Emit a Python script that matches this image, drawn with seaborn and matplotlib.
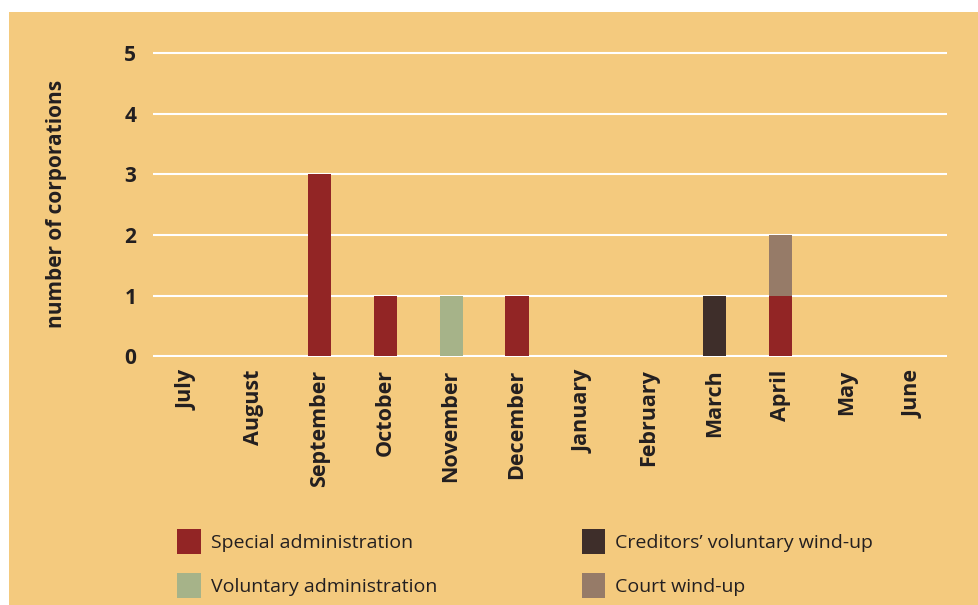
import pandas as pd
import matplotlib.pyplot as plt
import seaborn as sns
from matplotlib.patches import Patch, Rectangle

# dati del grafico
mesi = ["July", "August", "September", "October", "November", "December",
        "January", "February", "March", "April", "May", "June"]
special_admin = [0, 0, 3, 1, 0, 1, 0, 0, 0, 1, 0, 0]
voluntary_admin = [0, 0, 0, 0, 1, 0, 0, 0, 0, 0, 0, 0]
creditors_windup = [0, 0, 0, 0, 0, 0, 0, 0, 1, 0, 0, 0]
court_windup = [0, 0, 0, 0, 0, 0, 0, 0, 0, 1, 0, 0]

serie = [
    ("Special administration", special_admin, "#922525"),
    ("Voluntary administration", voluntary_admin, "#A6B389"),
    ("Creditors\u2019 voluntary wind-up", creditors_windup, "#3E2E2A"),
    ("Court wind-up", court_windup, "#967B68"),
]

sfondo = "#F4CA7E"
testo = "#231F20"

sns.set_style("white")
plt.rcParams["font.family"] = ["Open Sans", "DejaVu Sans"]

fig = plt.figure(figsize=(9.79, 6.05), dpi=100)
fig.patch.set_facecolor(sfondo)
# margini bianchi sopra e a sinistra
fig.patches.append(Rectangle((0, 1 - 12 / 605), 1, 12 / 605, transform=fig.transFigure,
                             facecolor="white", edgecolor="none"))
fig.patches.append(Rectangle((0, 0), 9 / 979, 1, transform=fig.transFigure,
                             facecolor="white", edgecolor="none"))

ax = fig.add_axes([153 / 979, 1 - 357 / 605, (947 - 153) / 979, (357 - 51) / 605])
ax.set_facecolor("none")

df = pd.DataFrame({"mese": mesi})
base = [0] * len(mesi)
for nome, valori, colore in serie:
    df["v"] = valori
    sns.barplot(data=df, x="mese", y="v", order=mesi, color=colore, width=0.35,
                bottom=base, errorbar=None, linewidth=0, saturation=1, ax=ax, zorder=3)
    base = [b + v for b, v in zip(base, valori)]

ax.set_xlim(-0.52, 11.52)
ax.set_ylim(-0.01, 5.03)
ax.set_yticks(range(6))
ax.yaxis.grid(True, color="white", linewidth=1.5, zorder=1)
ax.xaxis.grid(False)
ax.set_axisbelow(True)
for s in ax.spines.values():
    s.set_visible(False)

ax.tick_params(axis="both", length=0, colors=testo)
ax.tick_params(axis="y", pad=12, labelsize=15)
ax.tick_params(axis="x", pad=9, labelsize=15.5, rotation=90)
for lab in ax.get_xticklabels() + ax.get_yticklabels():
    lab.set_fontweight("bold")

ax.set_xlabel("")
ax.set_ylabel("number of corporations", fontsize=15, fontweight="bold",
              color=testo, labelpad=41)

handles = [Patch(facecolor=c, edgecolor="none", label=n) for n, _, c in serie]
fig.legend(handles=handles, ncol=2, frameon=False, loc="upper left",
           bbox_to_anchor=(160 / 979, 1 - 511 / 605), fontsize=14,
           handlelength=1.2, handleheight=1.65, handletextpad=0.5,
           columnspacing=7.45, labelspacing=0.95, labelcolor=testo)

plt.savefig("out.png", dpi=100, facecolor=fig.get_facecolor())
